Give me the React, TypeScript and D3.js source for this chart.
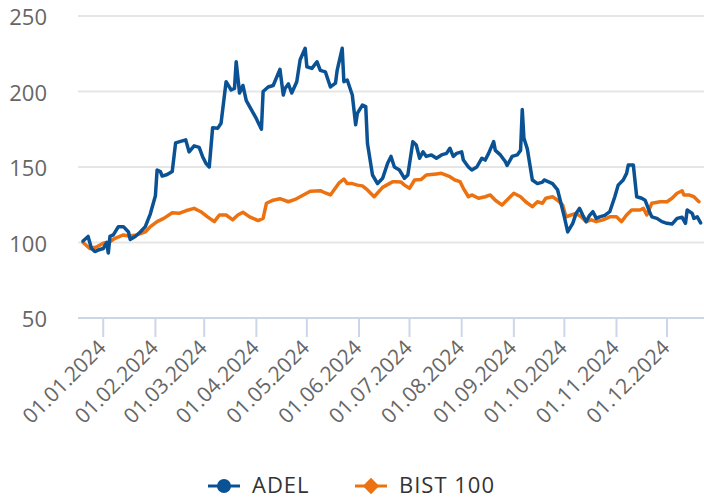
import * as React from 'react';
import * as d3 from 'd3';

// ADEL vs BIST 100, rebased to 100
const adelDates = [
  '2023-12-20', '2023-12-21', '2023-12-23', '2023-12-25', '2023-12-27', '2023-12-29',
  '2024-01-01', '2024-01-03', '2024-01-04', '2024-01-05', '2024-01-07', '2024-01-10',
  '2024-01-13', '2024-01-16', '2024-01-17', '2024-01-20', '2024-01-23', '2024-01-26',
  '2024-01-29', '2024-02-01', '2024-02-02', '2024-02-04', '2024-02-05', '2024-02-08',
  '2024-02-11', '2024-02-13', '2024-02-16', '2024-02-19', '2024-02-21', '2024-02-24',
  '2024-02-27', '2024-02-29', '2024-03-02', '2024-03-04', '2024-03-06', '2024-03-09',
  '2024-03-11', '2024-03-14', '2024-03-17', '2024-03-19', '2024-03-20', '2024-03-22',
  '2024-03-24', '2024-03-26', '2024-03-29', '2024-04-01', '2024-04-04', '2024-04-05',
  '2024-04-08', '2024-04-11', '2024-04-15', '2024-04-17', '2024-04-18', '2024-04-20',
  '2024-04-22', '2024-04-25', '2024-04-27', '2024-04-30', '2024-05-01', '2024-05-04',
  '2024-05-07', '2024-05-09', '2024-05-12', '2024-05-15', '2024-05-18', '2024-05-19',
  '2024-05-22', '2024-05-23', '2024-05-25', '2024-05-28', '2024-05-30', '2024-05-31',
  '2024-06-03', '2024-06-05', '2024-06-06', '2024-06-09', '2024-06-12', '2024-06-15',
  '2024-06-18', '2024-06-20', '2024-06-22', '2024-06-25', '2024-06-28', '2024-06-30',
  '2024-07-03', '2024-07-05', '2024-07-07', '2024-07-09', '2024-07-11', '2024-07-14',
  '2024-07-17', '2024-07-20', '2024-07-23', '2024-07-25', '2024-07-27', '2024-07-29',
  '2024-08-01', '2024-08-02', '2024-08-05', '2024-08-07', '2024-08-10', '2024-08-13',
  '2024-08-15', '2024-08-17', '2024-08-20', '2024-08-21', '2024-08-24', '2024-08-27',
  '2024-08-28', '2024-08-31', '2024-09-03', '2024-09-05', '2024-09-06', '2024-09-07',
  '2024-09-09', '2024-09-12', '2024-09-15', '2024-09-18', '2024-09-19', '2024-09-22',
  '2024-09-24', '2024-09-27', '2024-09-29', '2024-10-01', '2024-10-03', '2024-10-06',
  '2024-10-08', '2024-10-10', '2024-10-12', '2024-10-14', '2024-10-16', '2024-10-18',
  '2024-10-20', '2024-10-22', '2024-10-25', '2024-10-28', '2024-10-31', '2024-11-02',
  '2024-11-05', '2024-11-07', '2024-11-08', '2024-11-11', '2024-11-13', '2024-11-16',
  '2024-11-18', '2024-11-21', '2024-11-22', '2024-11-25', '2024-11-28', '2024-12-01',
  '2024-12-04', '2024-12-07', '2024-12-10', '2024-12-12', '2024-12-13', '2024-12-16',
  '2024-12-17', '2024-12-19', '2024-12-21',
];
const adelValues = [
  101, 102, 104, 96, 94, 95,
  96, 100, 93, 104, 105, 110.5,
  110.5, 107, 102, 104, 107, 110.5,
  119, 131, 148, 147, 144, 145,
  147, 166, 167, 168, 160, 164,
  163, 157, 152.5, 150, 176, 175.6,
  179, 206.5, 201, 202, 219.7, 199,
  204, 194, 188, 182, 175, 200,
  203, 204, 214.7, 197.7, 202, 205,
  199, 206.5, 221, 228.6, 216.4, 215.3,
  219.7, 214, 213, 203, 205.5, 214,
  228.6, 206.5, 207.6, 197.7, 178, 185.5,
  191, 190, 165.7, 144.7, 139, 142.5,
  152.5, 157, 150, 148, 142.5, 144.7,
  166.8, 164.6, 155.8, 160, 157, 158,
  155.8, 158, 159, 162.4, 157, 159,
  160, 154.6, 150, 148, 150, 155.8,
  154.6, 159, 166.8, 161, 158, 153.5,
  151, 157, 158, 161, 188, 169,
  162, 141.4, 139, 140, 141.4, 140,
  139, 134.8, 126, 117, 107, 112.7,
  119.3, 122.6, 118, 113.8, 118, 120.4,
  116, 117, 118, 120.4, 130.3, 138,
  141.4, 145.8, 151.3, 151.3, 130.3, 129.3,
  128, 119.3, 117, 116, 113.8, 112.7,
  112.2, 116, 116.7, 112.7, 121.5, 119.3,
  116, 117, 113,
];

const bistDates = [
  '2023-12-20', '2023-12-22', '2023-12-24', '2023-12-28', '2024-01-01', '2024-01-05',
  '2024-01-08', '2024-01-13', '2024-01-16', '2024-01-21', '2024-01-26', '2024-01-29',
  '2024-02-02', '2024-02-06', '2024-02-11', '2024-02-15', '2024-02-19', '2024-02-24',
  '2024-02-28', '2024-03-03', '2024-03-07', '2024-03-10', '2024-03-14', '2024-03-18',
  '2024-03-21', '2024-03-24', '2024-03-28', '2024-04-02', '2024-04-05', '2024-04-07',
  '2024-04-11', '2024-04-15', '2024-04-20', '2024-04-24', '2024-04-27', '2024-05-03',
  '2024-05-09', '2024-05-12', '2024-05-15', '2024-05-20', '2024-05-23', '2024-05-25',
  '2024-05-28', '2024-05-31', '2024-06-03', '2024-06-06', '2024-06-10', '2024-06-15',
  '2024-06-19', '2024-06-21', '2024-06-23', '2024-06-26', '2024-06-28', '2024-07-01',
  '2024-07-04', '2024-07-08', '2024-07-11', '2024-07-17', '2024-07-20', '2024-07-25',
  '2024-07-28', '2024-07-31', '2024-08-02', '2024-08-05', '2024-08-07', '2024-08-11',
  '2024-08-15', '2024-08-18', '2024-08-21', '2024-08-25', '2024-08-29', '2024-09-01',
  '2024-09-05', '2024-09-08', '2024-09-12', '2024-09-15', '2024-09-18', '2024-09-20',
  '2024-09-24', '2024-09-27', '2024-09-30', '2024-10-02', '2024-10-05', '2024-10-08',
  '2024-10-11', '2024-10-14', '2024-10-17', '2024-10-20', '2024-10-24', '2024-10-28',
  '2024-11-01', '2024-11-04', '2024-11-07', '2024-11-10', '2024-11-15', '2024-11-17',
  '2024-11-19', '2024-11-22', '2024-11-27', '2024-12-01', '2024-12-04', '2024-12-07',
  '2024-12-10', '2024-12-11', '2024-12-14', '2024-12-17', '2024-12-20',
];
const bistValues = [
  100, 98, 96, 97, 99.5, 100.5,
  102.8, 105, 104.3, 105, 107, 110.5,
  113.8, 116, 119.7, 119.3, 121, 122.6,
  120.4, 117, 113.8, 118.2, 118.2, 115,
  118.2, 120, 117, 114.5, 116, 126,
  128, 129, 127, 128.5, 130.3, 134,
  134.3, 132.8, 131.5, 139.3, 142, 139,
  139, 138, 137.5, 134.8, 130.3, 136.5,
  139, 140.3, 140.3, 140, 138, 135.9,
  141.4, 141.8, 144.7, 145.4, 145.8, 143.6,
  141.4, 140.3, 135.9, 130.3, 131.5, 129.3,
  130.3, 131.5, 128, 124.8, 129.3, 132.6,
  130.3, 127, 123.7, 127, 126, 129.3,
  130.3, 128, 124.8, 117, 118.2, 119.3,
  117, 113.8, 115, 113.8, 115, 117,
  117, 113.8, 118.2, 121.5, 121.5, 122.6,
  118.2, 126, 127, 127, 129.3, 132.6,
  134.3, 131.5, 131.5, 130.3, 127,
];

const seriesNames = ['ADEL', 'BIST 100'];
const seriesColors = ['#0a5294', '#ec7211'];
const yTicks = [50, 100, 150, 200, 250];
const xTickLabels = [
  '01.01.2024', '01.02.2024', '01.03.2024', '01.04.2024', '01.05.2024', '01.06.2024',
  '01.07.2024', '01.08.2024', '01.09.2024', '01.10.2024', '01.11.2024', '01.12.2024',
];

const W = 704;
const H = 499;
const FONT = '"Open Sans", "DejaVu Sans", sans-serif';

export default function App() {
  const ref = React.useRef<SVGSVGElement>(null);

  React.useEffect(() => {
    const svg = d3.select(ref.current);
    svg.selectAll('*').remove();

    const parse = d3.timeParse('%Y-%m-%d');
    const parseTick = d3.timeParse('%d.%m.%Y');

    const x = d3
      .scaleTime()
      .domain([parse('2023-12-17')!, parse('2024-12-23')!])
      .range([78, 704]);
    const y = d3.scaleLinear().domain([50, 250]).range([318, 16]);

    // grid
    svg
      .append('g')
      .selectAll('line')
      .data(yTicks.filter((t) => t > 50))
      .enter()
      .append('line')
      .attr('x1', 78)
      .attr('x2', W)
      .attr('y1', (d) => y(d))
      .attr('y2', (d) => y(d))
      .attr('stroke', '#e6e6e6')
      .attr('stroke-width', 2);

    svg
      .append('g')
      .selectAll('text')
      .data(yTicks)
      .enter()
      .append('text')
      .attr('x', 47)
      .attr('y', (d) => y(d) + 9)
      .attr('text-anchor', 'end')
      .attr('fill', '#666666')
      .style('font-family', FONT)
      .style('font-size', '22px')
      .text((d) => d);

    // x axis
    svg
      .append('line')
      .attr('x1', 78)
      .attr('x2', W)
      .attr('y1', 318)
      .attr('y2', 318)
      .attr('stroke', '#ccd6eb')
      .attr('stroke-width', 2);

    const ticks = xTickLabels.map((s) => ({ label: s, date: parseTick(s)! }));
    const xg = svg.append('g');
    xg.selectAll('line')
      .data(ticks)
      .enter()
      .append('line')
      .attr('x1', (d) => x(d.date))
      .attr('x2', (d) => x(d.date))
      .attr('y1', 318)
      .attr('y2', 337)
      .attr('stroke', '#ccd6eb')
      .attr('stroke-width', 2);
    xg.selectAll('text')
      .data(ticks)
      .enter()
      .append('text')
      .attr('transform', (d) => `translate(${x(d.date) + 4},349) rotate(-45)`)
      .attr('text-anchor', 'end')
      .attr('fill', '#666666')
      .style('font-family', FONT)
      .style('font-size', '21px')
      .text((d) => d.label);

    // series
    const line = d3
      .line<{ date: Date; value: number }>()
      .x((d) => x(d.date))
      .y((d) => y(d.value));

    const series = [
      adelDates.map((s, i) => ({ date: parse(s)!, value: adelValues[i] })),
      bistDates.map((s, i) => ({ date: parse(s)!, value: bistValues[i] })),
    ];

    // BIST drawn first, ADEL on top
    [1, 0].forEach((i) => {
      svg
        .append('path')
        .datum(series[i])
        .attr('d', line)
        .attr('fill', 'none')
        .attr('stroke', seriesColors[i])
        .attr('stroke-width', 3.5)
        .attr('stroke-linejoin', 'round')
        .attr('stroke-linecap', 'round');
    });

    // legend
    const legendX = [208, 355];
    const lg = svg.append('g');
    seriesNames.forEach((name, i) => {
      const lx = legendX[i];
      lg.append('line')
        .attr('x1', lx)
        .attr('x2', lx + 32)
        .attr('y1', 486)
        .attr('y2', 486)
        .attr('stroke', seriesColors[i])
        .attr('stroke-width', 3);
      if (i === 0) {
        lg.append('circle')
          .attr('cx', lx + 16)
          .attr('cy', 486)
          .attr('r', 7)
          .attr('fill', seriesColors[i]);
      } else {
        lg.append('path')
          .attr('d', d3.symbol(d3.symbolDiamond2, 170)())
          .attr('transform', `translate(${lx + 16},486)`)
          .attr('fill', seriesColors[i]);
      }
      lg.append('text')
        .attr('x', lx + 44)
        .attr('y', 493)
        .attr('fill', '#333333')
        .style('font-family', FONT)
        .style('font-size', '22px')
        .style('letter-spacing', '1px')
        .text(name);
    });
  }, []);

  return (
    <svg
      ref={ref}
      width={W}
      height={H}
      style={{ position: 'absolute', left: 0, top: 0, background: '#ffffff' }}
    />
  );
}
